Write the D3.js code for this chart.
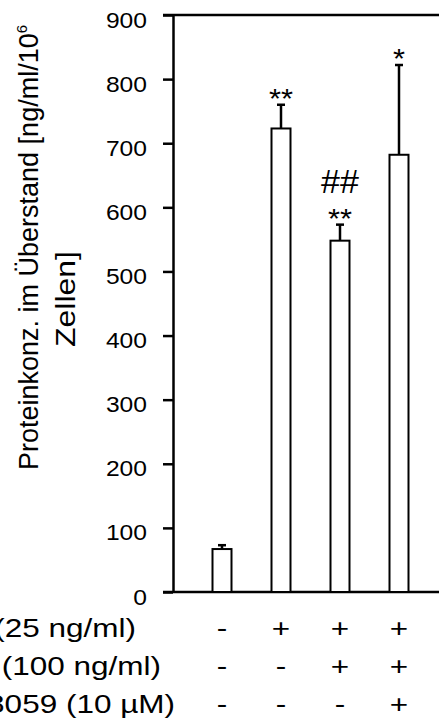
<!DOCTYPE html>
<html>
<head>
<meta charset="utf-8">
<script src="https://cdn.jsdelivr.net/npm/d3@7"></script>
<style>
  body { margin: 0; background: #fff; }
  svg { display: block; font-family: "Liberation Sans", Arial, sans-serif; }
</style>
</head>
<body>
<svg id="chart"></svg>
<script>
'use strict';
// chart values
var groups = ['1', '2', '3', '4'];
var means = [67, 723, 548, 682];
var errors = [6, 37, 25, 140];
var marks = ['', '**', '**', '*'];
var hashes = ['', '', '##', ''];
var yTicks = [0, 100, 200, 300, 400, 500, 600, 700, 800, 900];
var rowLabels = ['(25 ng/ml)', '(100 ng/ml)', 'PD98059 (10 µM)'];
var rowSigns = [
  ['-', '+', '+', '+'],
  ['-', '-', '+', '+'],
  ['-', '-', '-', '+']
];

var canvasWidth = 439,
  canvasHeight = 724,
  axisX = 173,
  plotRight = 439,
  svg = d3.select('#chart')
    .attr('width', canvasWidth)
    .attr('height', canvasHeight);

var yScale = d3.scaleLinear()
  .domain([0, 900])
  .range([592, 15]);

var xScale = d3.scaleBand()
  .domain(groups)
  .range([192.5, 428.5])
  .paddingInner(0.678)
  .paddingOuter(0.339);

function cx(d) { return xScale(d) + xScale.bandwidth() / 2; }

// frame lines at top and bottom
svg.append('line')
  .attr('x1', axisX - 10).attr('x2', plotRight)
  .attr('y1', yScale(900)).attr('y2', yScale(900))
  .attr('stroke', '#000').attr('stroke-width', 2.5);
svg.append('line')
  .attr('x1', axisX - 10).attr('x2', plotRight)
  .attr('y1', yScale(0)).attr('y2', yScale(0))
  .attr('stroke', '#000').attr('stroke-width', 2.5);

// y axis
var yAxis = svg.append('g')
  .attr('transform', 'translate(' + axisX + ',0)')
  .call(d3.axisLeft(yScale).tickValues(yTicks).tickSize(10).tickSizeOuter(0));
yAxis.select('.domain').attr('stroke-width', 2.5);
yAxis.selectAll('.tick line').attr('stroke-width', 2.5);
yAxis.selectAll('.tick text')
  .attr('x', null).attr('dy', null)
  .attr('transform', 'translate(-26,12) scale(1.12,1)')
  .style('font-size', '22px')
  .style('font-family', '"Liberation Sans", Arial, sans-serif')
  .attr('fill', '#000');

// error bars (drawn first, bars sit on top)
var err = svg.append('g');
groups.forEach(function(g, i) {
  err.append('line')
    .attr('x1', cx(g)).attr('x2', cx(g))
    .attr('y1', yScale(means[i])).attr('y2', yScale(means[i] + errors[i]))
    .attr('stroke', '#000').attr('stroke-width', 2.5);
  err.append('line')
    .attr('x1', cx(g) - 4).attr('x2', cx(g) + 4)
    .attr('y1', yScale(means[i] + errors[i])).attr('y2', yScale(means[i] + errors[i]))
    .attr('stroke', '#000').attr('stroke-width', 2.5);
});

// bars
svg.append('g').selectAll('rect')
  .data(groups)
  .enter().append('rect')
  .attr('x', function(d) { return xScale(d); })
  .attr('width', xScale.bandwidth())
  .attr('y', function(d, i) { return yScale(means[i]); })
  .attr('height', function(d, i) { return yScale(0) - yScale(means[i]); })
  .attr('fill', '#fff')
  .attr('stroke', '#000')
  .attr('stroke-width', 2);

// significance marks
groups.forEach(function(g, i) {
  var top = yScale(means[i] + errors[i]);
  if (marks[i]) {
    svg.append('text')
      .attr('transform', 'translate(' + cx(g) + ',' + (top + 3) + ') scale(1.1,1)')
      .attr('text-anchor', 'middle')
      .style('font-size', '28px')
      .text(marks[i]);
  }
  if (hashes[i]) {
    svg.append('text')
      .attr('transform', 'translate(' + cx(g) + ',' + (top - 32) + ')')
      .attr('text-anchor', 'middle')
      .style('font-size', '34px')
      .text(hashes[i]);
  }
});

// y axis title
var title = svg.append('text')
  .attr('transform', 'translate(38,247.5) rotate(-90)')
  .attr('text-anchor', 'middle')
  .style('font-size', '27px');
title.append('tspan').text('Proteinkonz. im Überstand [ng/ml/10');
title.append('tspan').attr('dy', -11).style('font-size', '15px').text('6');
svg.append('text')
  .attr('transform', 'translate(75,299) rotate(-90) scale(1.14,1)')
  .attr('text-anchor', 'middle')
  .style('font-size', '28px')
  .text('Zellen]');

// treatment rows
var labelEnds = [136, 161, 175];
var rowBase = [637, 675, 713];
rowLabels.forEach(function(lbl, r) {
  svg.append('text')
    .attr('transform', 'translate(' + labelEnds[r] + ',' + rowBase[r] + ') scale(1.26,1)')
    .attr('text-anchor', 'end')
    .style('font-size', '25px')
    .text(lbl);
  rowSigns[r].forEach(function(s, i) {
    svg.append('text')
      .attr('transform', 'translate(' + cx(groups[i]) + ',' + rowBase[r] + ') scale(1.26,1)')
      .attr('text-anchor', 'middle')
      .style('font-size', '25px')
      .text(s);
  });
});
</script>
</body>
</html>
